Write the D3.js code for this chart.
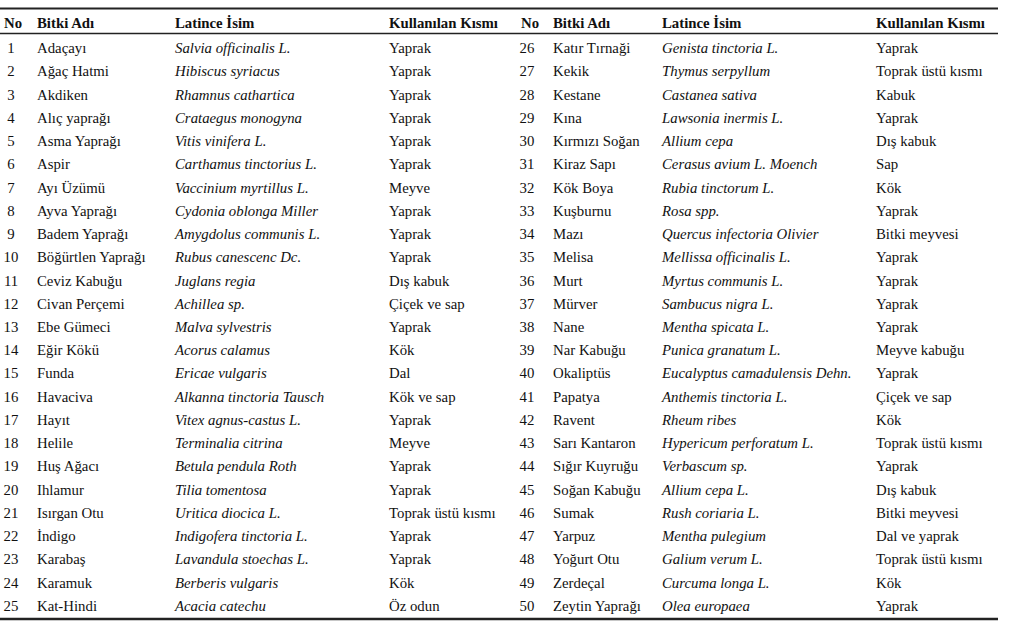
<!DOCTYPE html>
<html lang="tr">
<head>
<meta charset="utf-8">
<title>Bitkiler</title>
<script src="https://cdn.jsdelivr.net/npm/d3@7"></script>
<style>
  body { margin: 0; background: #fff; }
  text { font-family: "Liberation Serif", "Times New Roman", serif; font-size: 14.8px; fill: #111; }
</style>
</head>
<body>
<script>
// table contents
var headers = ["No", "Bitki Adı", "Latince İsim", "Kullanılan Kısmı"];
var plantNo = d3.range(1, 51);
var plantNames = ["Adaçayı", "Ağaç Hatmi", "Akdiken", "Alıç yaprağı", "Asma Yaprağı", "Aspir", "Ayı Üzümü",
  "Ayva Yaprağı", "Badem Yaprağı", "Böğürtlen Yaprağı", "Ceviz Kabuğu", "Civan Perçemi", "Ebe Gümeci",
  "Eğir Kökü", "Funda", "Havaciva", "Hayıt", "Helile", "Huş Ağacı", "Ihlamur", "Isırgan Otu", "İndigo",
  "Karabaş", "Karamuk", "Kat-Hindi",
  "Katır Tırnaği", "Kekik", "Kestane", "Kına", "Kırmızı Soğan", "Kiraz Sapı", "Kök Boya", "Kuşburnu",
  "Mazı", "Melisa", "Murt", "Mürver", "Nane", "Nar Kabuğu", "Okaliptüs", "Papatya", "Ravent",
  "Sarı Kantaron", "Sığır Kuyruğu", "Soğan Kabuğu", "Sumak", "Yarpuz", "Yoğurt Otu", "Zerdeçal",
  "Zeytin Yaprağı"];
var latinNames = ["Salvia officinalis L.", "Hibiscus syriacus", "Rhamnus cathartica", "Crataegus monogyna",
  "Vitis vinifera L.", "Carthamus tinctorius L.", "Vaccinium myrtillus L.", "Cydonia oblonga Miller",
  "Amygdolus communis L.", "Rubus canescenc Dc.", "Juglans regia", "Achillea sp.", "Malva sylvestris",
  "Acorus calamus", "Ericae vulgaris", "Alkanna tinctoria Tausch", "Vitex agnus-castus L.",
  "Terminalia citrina", "Betula pendula Roth", "Tilia tomentosa", "Uritica diocica L.",
  "Indigofera tinctoria L.", "Lavandula stoechas L.", "Berberis vulgaris", "Acacia catechu",
  "Genista tinctoria L.", "Thymus serpyllum", "Castanea sativa", "Lawsonia inermis L.", "Allium cepa",
  "Cerasus avium L. Moench", "Rubia tinctorum L.", "Rosa spp.", "Quercus infectoria Olivier",
  "Mellissa officinalis L.", "Myrtus communis L.", "Sambucus nigra L.", "Mentha spicata L.",
  "Punica granatum L.", "Eucalyptus camadulensis Dehn.", "Anthemis tinctoria L.", "Rheum ribes",
  "Hypericum perforatum L.", "Verbascum sp.", "Allium cepa L.", "Rush coriaria L.", "Mentha pulegium",
  "Galium verum L.", "Curcuma longa L.", "Olea europaea"];
var usedParts = ["Yaprak", "Yaprak", "Yaprak", "Yaprak", "Yaprak", "Yaprak", "Meyve", "Yaprak", "Yaprak",
  "Yaprak", "Dış kabuk", "Çiçek ve sap", "Yaprak", "Kök", "Dal", "Kök ve sap", "Yaprak", "Meyve",
  "Yaprak", "Yaprak", "Toprak üstü kısmı", "Yaprak", "Yaprak", "Kök", "Öz odun",
  "Yaprak", "Toprak üstü kısmı", "Kabuk", "Yaprak", "Dış kabuk", "Sap", "Kök", "Yaprak", "Bitki meyvesi",
  "Yaprak", "Yaprak", "Yaprak", "Yaprak", "Meyve kabuğu", "Yaprak", "Çiçek ve sap", "Kök",
  "Toprak üstü kısmı", "Yaprak", "Dış kabuk", "Bitki meyvesi", "Dal ve yaprak", "Toprak üstü kısmı",
  "Kök", "Yaprak"];

var W = 1009, H = 628;
var rowsPerHalf = 25;

var svg = d3.select("body").append("svg")
  .attr("width", W)
  .attr("height", H);

var rows = plantNo.map(function(n, i) {
  return { no: n, name: plantNames[i], latin: latinNames[i], part: usedParts[i],
           half: Math.floor(i / rowsPerHalf), row: i % rowsPerHalf };
});

// vertical layout
var y = d3.scaleBand()
  .domain(d3.range(rowsPerHalf))
  .range([36.5, 617.5]);

// column positions, left half and right half
var cols = [
  { noHead: 4, no: 11, name: 37, latin: 175, part: 389 },
  { noHead: 521, no: 527, name: 553, latin: 662, part: 876 }
];

// rules
var rules = [{ y: 8.5, w: 2 }, { y: 33.5, w: 1.6 }, { y: 619, w: 2.4 }];
svg.selectAll("line.rule")
  .data(rules)
  .enter().append("line")
  .attr("class", "rule")
  .attr("x1", 0)
  .attr("x2", 998)
  .attr("y1", function(d) { return d.y; })
  .attr("y2", function(d) { return d.y; })
  .attr("stroke", "#222")
  .attr("stroke-width", function(d) { return d.w; });

// headers
var headerBase = 28;
cols.forEach(function(c) {
  var hx = [c.noHead, c.name, c.latin, c.part];
  svg.append("g").selectAll("text")
    .data(headers)
    .enter().append("text")
    .attr("x", function(d, i) { return hx[i]; })
    .attr("y", headerBase)
    .attr("font-weight", "bold")
    .text(function(d) { return d; });
});

// body rows
var rowG = svg.selectAll("g.row")
  .data(rows)
  .enter().append("g")
  .attr("class", "row")
  .attr("transform", function(d) {
    return "translate(0," + (y(d.row) + y.bandwidth() / 2 + 5) + ")";
  });

rowG.append("text")
  .attr("x", function(d) { return cols[d.half].no; })
  .attr("text-anchor", "middle")
  .text(function(d) { return d.no; });
rowG.append("text")
  .attr("x", function(d) { return cols[d.half].name; })
  .text(function(d) { return d.name; });
rowG.append("text")
  .attr("x", function(d) { return cols[d.half].latin; })
  .attr("font-style", "italic")
  .text(function(d) { return d.latin; });
rowG.append("text")
  .attr("x", function(d) { return cols[d.half].part; })
  .text(function(d) { return d.part; });
</script>
</body>
</html>
